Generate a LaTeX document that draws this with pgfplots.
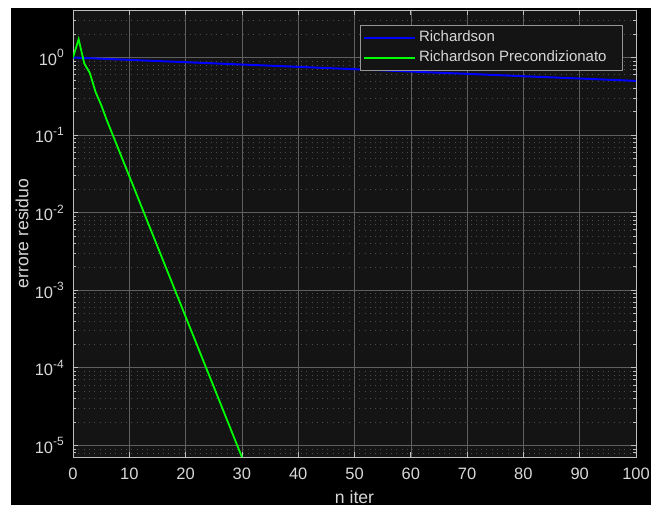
\documentclass[border=0pt]{standalone}
\usepackage{pgfplots}
\pgfplotsset{compat=1.18}
\usepackage{fontspec}
\setmainfont{Liberation Sans}
\definecolor{axbg}{RGB}{20,20,20}
\definecolor{axline}{RGB}{190,190,190}
\definecolor{ticktext}{RGB}{215,215,215}
\definecolor{majgrid}{RGB}{95,95,95}
\definecolor{mingrid}{RGB}{75,75,75}
\definecolor{legedge}{RGB}{150,150,150}
\definecolor{mblue}{RGB}{0,0,255}
\definecolor{mgreen}{RGB}{0,255,0}
\newcommand{\tp}[1]{10\raisebox{7.5bp}{\fontsize{12bp}{12bp}\selectfont #1}}
\begin{document}
\begin{tikzpicture}[x=1bp,y=1bp]
\fill[white] (0,0) rectangle (651,509);
\fill[black] (11,4) rectangle (651,501);
\begin{axis}[
  at={(73bp,52bp)}, anchor=south west,
  width=563bp, height=447bp, scale only axis,
  ymode=log,
  xmin=0, xmax=100, ymin=7.08e-6, ymax=4.1,
  axis background/.style={fill=axbg},
  axis line style={axline, line width=0.8bp},
  every tick/.style={axline, line width=0.8bp},
  major tick length=5bp, minor tick length=3bp,
  tick align=inside,
  xtick={0,10,...,100},
  ytick={1e-5,1e-4,1e-3,1e-2,1e-1,1},
  yticklabels={\tp{-5},\tp{-4},\tp{-3},\tp{-2},\tp{-1},\tp{0}},
  minor ytick={8e-6,9e-6,2e-5,3e-5,4e-5,5e-5,6e-5,7e-5,8e-5,9e-5,2e-4,3e-4,4e-4,5e-4,6e-4,7e-4,8e-4,9e-4,2e-3,3e-3,4e-3,5e-3,6e-3,7e-3,8e-3,9e-3,2e-2,3e-2,4e-2,5e-2,6e-2,7e-2,8e-2,9e-2,0.2,0.3,0.4,0.5,0.6,0.7,0.8,0.9,2,3,4},
  /pgf/number format/assume math mode=true,
  grid=both,
  major grid style={majgrid, line width=0.6bp},
  minor grid style={mingrid, line width=0.7bp, dash pattern=on 0.8bp off 4.5bp},
  xminorgrids=false,
  xticklabel style={text=ticktext, font=\fontsize{16.5bp}{18bp}\selectfont, inner sep=0pt, anchor=base, yshift=-22bp},
  yticklabel style={text=ticktext, font=\fontsize{16.5bp}{18bp}\selectfont, inner sep=0pt, anchor=east, xshift=-9bp, yshift=0bp},
  xlabel={n iter}, ylabel={errore residuo},
  label style={text=ticktext, font=\fontsize{17.6bp}{20bp}\selectfont, inner sep=0pt},
  xlabel style={at={(axis description cs:0.5,-0.1029)}, anchor=base},
  ylabel style={at={(axis description cs:-0.0906,0.5)}, anchor=center},
  legend cell align=left,
  legend image code/.code={\draw[#1, line width=1.8bp] (0bp,0bp) -- (51bp,0bp);},
  legend style={at={(1,1)}, anchor=north east, xshift=-13bp, yshift=-15bp,
    fill=axbg, draw=legedge, line width=0.8bp, text=ticktext,
    font=\fontsize{15bp}{17bp}\selectfont,
    inner xsep=3bp, inner ysep=2.5bp, row sep=0bp,
    nodes={inner xsep=3bp, inner ysep=3.25bp, text height=10.5bp, text depth=3bp}},
]
\addplot[mblue, line width=2bp] coordinates {
(0,1) (5,0.966) (10,0.933) (15,0.901) (20,0.871) (25,0.841) (30,0.812) (35,0.785)
(40,0.758) (45,0.732) (50,0.707) (55,0.683) (60,0.660) (65,0.637) (70,0.616)
(75,0.595) (80,0.574) (85,0.555) (90,0.536) (95,0.518) (100,0.5)};
\addlegendentry{Richardson}
\addplot[mgreen, line width=1.8bp] coordinates {
(0,1) (1,1.72) (2,0.84) (3,0.63) (4,0.36) (5,0.245) (6,0.156) (7,0.103) (8,0.0679)
(9,0.0448) (10,0.0295) (11,0.0195) (12,0.0128) (13,0.00845) (14,0.00557) (15,0.00367)
(16,0.00242) (17,0.00160) (18,0.00105) (19,6.93e-4) (20,4.57e-4) (21,3.01e-4)
(22,1.99e-4) (23,1.31e-4) (24,8.63e-5) (25,5.69e-5) (26,3.75e-5) (27,2.47e-5)
(28,1.63e-5) (29,1.07e-5) (30,7.08e-6)};
\addlegendentry{Richardson Precondizionato\kern10bp}
\end{axis}
\pgfresetboundingbox
\useasboundingbox (0,0) rectangle (651,509);
\end{tikzpicture}
\end{document}
